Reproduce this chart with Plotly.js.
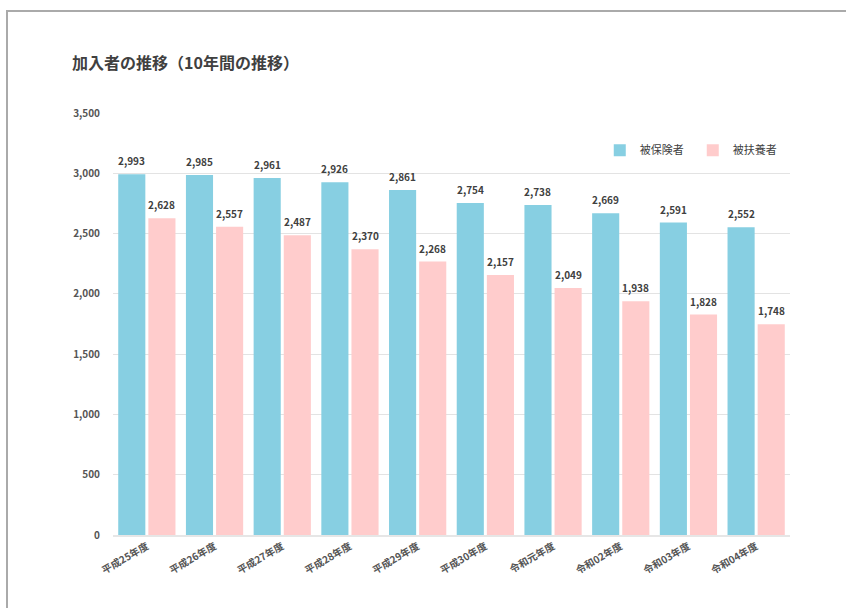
<!DOCTYPE html>
<html><head><meta charset="utf-8">
<script src="https://cdn.plot.ly/plotly-3.0.1.min.js"></script>
<style>
html,body{margin:0;padding:0;background:#fff;}
#chart{position:absolute;left:0;top:0;width:846px;height:608px;}
#frame{position:absolute;left:6px;top:10px;width:860px;height:620px;border:2px solid #aaaaaa;pointer-events:none;box-sizing:border-box;}
</style></head>
<body>
<div id="chart"></div>
<div id="frame"></div>
<script>
const categories = ["平成25年度","平成26年度","平成27年度","平成28年度","平成29年度","平成30年度","令和元年度","令和02年度","令和03年度","令和04年度"];
const insured = [2993,2985,2961,2926,2861,2754,2738,2669,2591,2552];
const dependents = [2628,2557,2487,2370,2268,2157,2049,1938,1828,1748];
const seriesNames = ["被保険者","被扶養者"];

const font = "'Noto Sans CJK JP', 'Noto Sans', sans-serif";
const fmt = v => v.toLocaleString('en-US');
const bargap = 0.11, bargroupgap = 0.1;
const off = (1 - bargap) / 4; // centre offset of each bar within its group

const traces = [
  {type:'bar', name:seriesNames[0], x:categories, y:insured, marker:{color:'#87CFE2'}},
  {type:'bar', name:seriesNames[1], x:categories, y:dependents, marker:{color:'#FFCCCC'}}
];

const annotations = [];
[insured, dependents].forEach((vals, s) => {
  vals.forEach((v, i) => {
    annotations.push({x: i + (s === 0 ? -off : off), y: v, xref:'x', yref:'y', text: fmt(v),
      showarrow:false, yanchor:'bottom', yshift:4,
      font:{family:font, size:10, color:'#404040', weight:'bold'}});
  });
});

const layout = {
  width:846, height:608,
  margin:{l:113, r:56, t:113, b:73},
  paper_bgcolor:'#fff', plot_bgcolor:'#fff',
  font:{family:font, color:'#555'},
  title:{text:'加入者の推移（10年間の推移）', x:72/846, xanchor:'left', y:1-63/608, yanchor:'middle',
         font:{family:font, size:16, color:'#404040', weight:'bold'}},
  barmode:'group', bargap:bargap, bargroupgap:bargroupgap,
  xaxis:{type:'category', tickangle:-30, tickfont:{family:font, size:10, color:'#555', weight:'bold'},
         showline:true, linecolor:'#e6e6e6', linewidth:2, ticks:'', showgrid:false},
  yaxis:{range:[0,3500], dtick:500, tickformat:',d', showgrid:true, gridcolor:'#e3e3e3', gridwidth:1,
         zeroline:false, showline:false, ticks:'', ticklabelstandoff:12,
         tickfont:{family:font, size:10, color:'#555', weight:'bold'}},
  legend:{orientation:'h', x:0.719, xanchor:'left', y:0.912, yanchor:'middle',
          font:{family:font, size:11, color:'#404040'}, itemwidth:30, entrywidth:48, traceorder:'normal',
          bgcolor:'rgba(0,0,0,0)'},
  annotations: annotations,
  showlegend:true
};

Plotly.newPlot('chart', traces, layout, {displayModeBar:false, staticPlot:true});
</script>
</body></html>
